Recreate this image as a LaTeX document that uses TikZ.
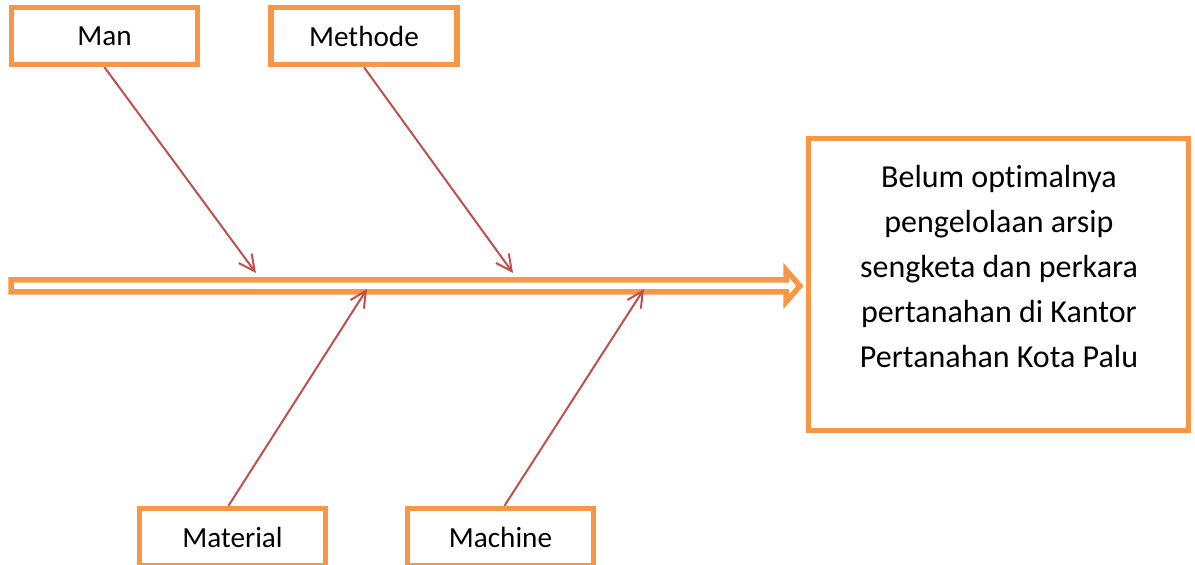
\documentclass[tikz,border=0pt]{standalone}
\usepackage{fontspec}
\setmainfont{Carlito}[Ligatures=NoCommon]
\usetikzlibrary{arrows.meta}
\definecolor{boxorange}{HTML}{F79646}
\definecolor{bonered}{HTML}{C0504D}
\tikzset{
  causebox/.style={draw=boxorange, line width=2.75pt, fill=white, minimum width=93pt, minimum height=28.5pt, inner sep=0pt, font=\fontsize{14.6}{17}\selectfont},
  effectbox/.style={draw=boxorange, line width=2.75pt, minimum width=190pt, minimum height=146pt, inner sep=0pt},
  effecttext/.style={align=center, inner sep=0pt, font=\fontsize{16}{22.5}\selectfont},
  spine/.style={draw=boxorange, line width=2.75pt, miter limit=10},
  bone/.style={draw=bonered, line width=1pt, -{Straight Barb[length=8pt,width=8pt]}},
}

\begin{document}
\begin{tikzpicture}[x=0.5pt,y=-0.5pt]
\useasboundingbox (0,0) rectangle (1195,565);
% cause boxes
\node[causebox] (man) at (104.5,36) {Man};
\node[causebox] (methode) at (364,36) {Methode};
\node[causebox] (material) at (232.5,537) {Material};
\node[causebox] (machine) at (500.5,537) {Machine};
% effect box
\node[effectbox] (effect) at (998.5,284.5) {};
\node[effecttext] (effecttxt) at (999,267) {Belum optimalnya\\pengelolaan arsip\\sengketa dan perkara\\pertanahan di Kantor\\Pertanahan Kota Palu};
% spine
\draw[spine] (11,280) -- (786,280) -- (786,270) -- (800,286) -- (786,302) -- (786,292) -- (11,292) -- cycle;
% bone ends on the spine
\coordinate (manend) at (256,273);
\coordinate (methodeend) at (513,273);
\coordinate (materialend) at (367,289);
\coordinate (machineend) at (644,289);
% bones
\draw[bone] (man.south) -- (manend);
\draw[bone] (methode.south) -- (methodeend);
\draw[bone] ([xshift=-2]material.north) -- (materialend);
\draw[bone] ([xshift=2]machine.north) -- (machineend);
\end{tikzpicture}
\end{document}
